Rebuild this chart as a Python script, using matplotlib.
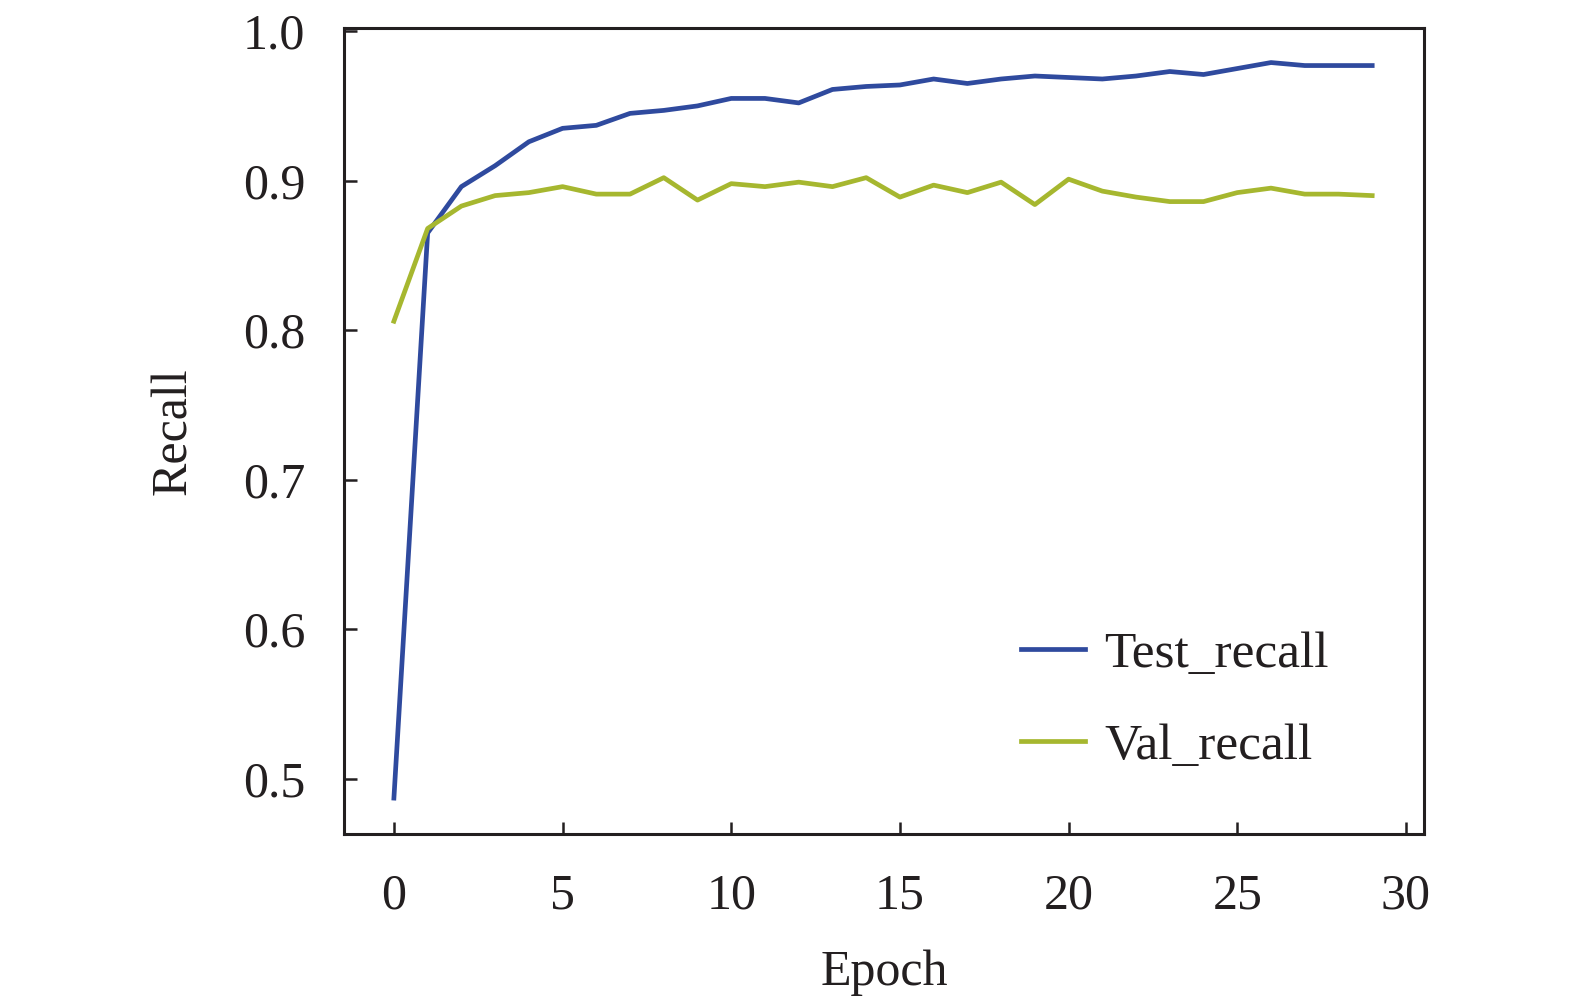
import numpy as np
import matplotlib
matplotlib.use("Agg")
import matplotlib.pyplot as plt

# values
epochs = list(range(30))
test_recall = [0.487, 0.865, 0.896, 0.910, 0.926, 0.935, 0.937, 0.945, 0.947, 0.950,
               0.955, 0.955, 0.952, 0.961, 0.963, 0.964, 0.968, 0.965, 0.968, 0.970,
               0.969, 0.968, 0.970, 0.973, 0.971, 0.975, 0.979, 0.977, 0.977, 0.977]
val_recall = [0.806, 0.868, 0.883, 0.890, 0.892, 0.896, 0.891, 0.891, 0.902, 0.887,
              0.898, 0.896, 0.899, 0.896, 0.902, 0.889, 0.897, 0.892, 0.899, 0.884,
              0.901, 0.893, 0.889, 0.886, 0.886, 0.892, 0.895, 0.891, 0.891, 0.890]
x_ticks = [0, 5, 10, 15, 20, 25, 30]
y_ticks = [0.5, 0.6, 0.7, 0.8, 0.9, 1.0]

plt.rcParams['font.family'] = ['Liberation Serif', 'DejaVu Serif']
plt.rcParams['font.size'] = 36

fig = plt.figure(figsize=(15.75, 10.06), dpi=100)
ax = fig.add_axes([0.2184, 0.171, 0.6856, 0.801])

ax.plot(epochs, test_recall, color="#2f4a9e", lw=3.4, label="Test_recall")
ax.plot(epochs, val_recall, color="#a6b72f", lw=3.4, label="Val_recall")

ax.set_xlim(-1.48, 30.53)
ax.set_ylim(0.463, 1.002)
ax.set_xticks(x_ticks)
ax.set_yticks(y_ticks)
ax.set_yticklabels(["%.1f" % v for v in y_ticks])

for s in ax.spines.values():
    s.set_linewidth(2.2)
    s.set_color("#231f20")
ax.tick_params(direction="in", length=9, width=1.8, pad=28, colors="#231f20",
               labelcolor="#231f20", top=False, right=False)

ax.set_xlabel("Epoch", labelpad=22, color="#231f20")
ax.set_ylabel("Recall", labelpad=33, color="#231f20")

leg = ax.legend(loc="upper left", bbox_to_anchor=(0.584, 0.309), frameon=False,
                fontsize=37, handlelength=1.25, handletextpad=0.38, labelspacing=0.88)
for t in leg.get_texts():
    t.set_color("#231f20")

fig.savefig("out.png", dpi=100)
